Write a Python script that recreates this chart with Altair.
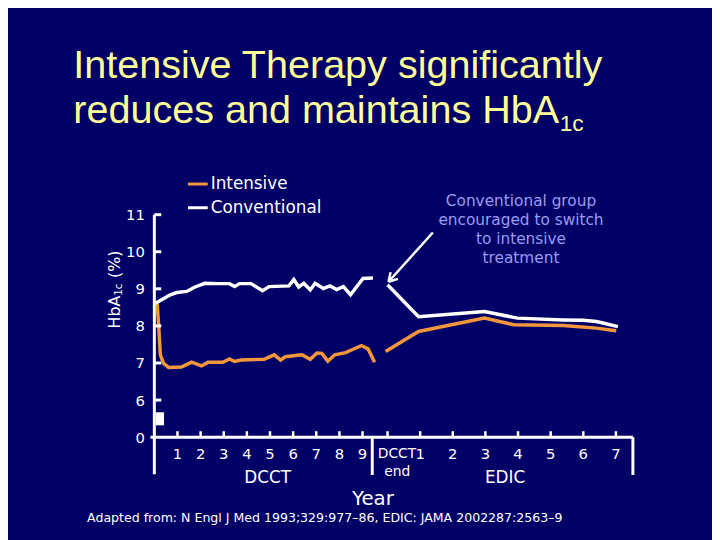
import altair as alt
import pandas as pd

BG = "#000066"
ORANGE = "#F5963C"
WHITE = "#FFFFFF"
YELLOW = "#FFFF99"
LAV = "#9C9CF0"
FONT = "DejaVu Sans"

# ---- data ----
# DCCT phase, x = years since start of DCCT
dcct_conv_year = [0.05, 0.69, 0.97, 1.40, 1.76, 2.18, 2.75, 3.25, 3.47, 3.68, 4.18, 4.68, 4.96,
                  5.82, 6.03, 6.24, 6.46, 6.74, 6.95, 7.31, 7.59, 7.88, 8.17, 8.48, 9.02, 9.45]
dcct_conv_hba1c = [8.61, 8.84, 8.90, 8.93, 9.05, 9.15, 9.14, 9.14, 9.06, 9.14, 9.14, 8.95, 9.06,
                   9.08, 9.25, 9.05, 9.15, 8.97, 9.15, 9.01, 9.08, 8.98, 9.06, 8.84, 9.28, 9.29]
dcct_int_year = [0.12, 0.19, 0.26, 0.40, 0.62, 1.17, 1.61, 2.04, 2.32, 2.96, 3.25, 3.47, 3.75,
                 4.75, 5.18, 5.46, 5.67, 6.17, 6.38, 6.74, 7.03, 7.24, 7.50, 7.80, 8.27, 8.59,
                 8.95, 9.24, 9.52]
dcct_int_hba1c = [8.61, 7.98, 7.22, 6.99, 6.88, 6.89, 7.02, 6.92, 7.02, 7.02, 7.11, 7.04, 7.08,
                  7.10, 7.22, 7.08, 7.17, 7.21, 7.22, 7.10, 7.27, 7.26, 7.05, 7.22, 7.28, 7.37,
                  7.47, 7.38, 7.02]
# EDIC phase, x = years since end of DCCT
edic_conv_year = [0.0, 0.95, 2.97, 3.98, 5.39, 6.0, 6.4, 6.6, 7.06]
edic_conv_hba1c = [9.11, 8.25, 8.39, 8.21, 8.16, 8.15, 8.12, 8.08, 7.98]
edic_int_year = [-0.06, 0.95, 2.97, 3.88, 5.39, 6.4, 7.01]
edic_int_hba1c = [7.31, 7.85, 8.21, 8.03, 8.01, 7.94, 7.87]

series = ["Intensive", "Conventional"]
dcct_ticks = [1, 2, 3, 4, 5, 6, 7, 8, 9]
edic_ticks = [0, 1, 2, 3, 4, 5, 6, 7]
edic_labels = ["", "1", "2", "3", "4", "5", "6", "7"]
y_ticks = [5, 6, 7, 8, 9, 10, 11]          # 5 is drawn as the broken-axis "0"
y_inner_ticks = [6, 7, 8, 9, 10, 11]

# arrow (EDIC scale): shaft + two head prongs
arrow_x = [1.39, 0.03, 0.03]
arrow_y = [10.52, 9.19, 9.19]
arrow_x2 = [0.03, 0.318, 0.094]
arrow_y2 = [9.19, 9.27, 9.45]

# ---- tables ----
dcct_df = pd.concat([
    pd.DataFrame({"year": dcct_int_year, "value": dcct_int_hba1c, "series": "Intensive"}),
    pd.DataFrame({"year": dcct_conv_year, "value": dcct_conv_hba1c, "series": "Conventional"}),
])
edic_df = pd.concat([
    pd.DataFrame({"year": edic_int_year, "value": edic_int_hba1c, "series": "Intensive"}),
    pd.DataFrame({"year": edic_conv_year, "value": edic_conv_hba1c, "series": "Conventional"}),
])
one = pd.DataFrame({"k": [0]})

# ---- scales / axes ----
yscale = alt.Scale(domain=[5, 11], nice=False, zero=False)
yaxis = alt.Axis(values=y_ticks, labelExpr="datum.value == 5 ? '0' : datum.label",
                 ticks=False, domain=False, grid=False, labelColor=WHITE, labelFontSize=15,
                 labelFont=FONT, labelPadding=10, title=None)
dscale = alt.Scale(domain=[0, 9.42], range=[0, 220.4], nice=False, zero=False)
escale = alt.Scale(domain=[-0.48, 7.52], range=[220, 484], nice=False, zero=False)
cscale = alt.Scale(domain=series, range=[ORANGE, WHITE])


def Y(f):
    return alt.Y(f, type="quantitative", scale=yscale, axis=yaxis)


def XD(f):
    return alt.X(f, type="quantitative", scale=dscale, axis=None)


def XE(f):
    return alt.X(f, type="quantitative", scale=escale, axis=None)


WL = dict(stroke=WHITE, strokeWidth=3)

# ---- DCCT group ----
dcct_lines = alt.Chart(dcct_df).mark_line(strokeWidth=3.5).encode(
    x=XD("year"), y=Y("value"),
    color=alt.Color("series:N", scale=cscale, legend=None), detail="series:N")

yline = alt.Chart(pd.DataFrame({"x": [0], "y": [4], "y2": [11]})).mark_rule(**WL).encode(
    x=XD("x"), y=Y("y"), y2="y2")
yt = alt.Chart(pd.DataFrame({"y": y_inner_ticks, "x": 0, "x2": 0.3})).mark_rule(**WL).encode(
    x=XD("x"), x2="x2", y=Y("y"))
brk = alt.Chart(pd.DataFrame({"x": [0.06], "x2": [0.42], "y": [5.32], "y2": [5.67]})).mark_rect(
    color=WHITE).encode(x=XD("x"), x2="x2", y=Y("y"), y2="y2")
xline_d = alt.Chart(pd.DataFrame({"x": [-0.17], "x2": [9.42], "y": [5]})).mark_rule(**WL).encode(
    x=XD("x"), x2="x2", y=Y("y"))
xt_d = alt.Chart(pd.DataFrame({"x": dcct_ticks, "y": 5, "y2": 5.16})).mark_rule(
    stroke=WHITE, strokeWidth=2.5).encode(x=XD("x"), y=Y("y"), y2="y2")
sep = alt.Chart(pd.DataFrame({"x": [9.42], "y": [3.98], "y2": [5]})).mark_rule(**WL).encode(
    x=XD("x"), y=Y("y"), y2="y2")
lab_d = alt.Chart(pd.DataFrame({"x": dcct_ticks, "y": 4.54,
                                "t": [str(v) for v in dcct_ticks]})).mark_text(
    color=WHITE, font=FONT, fontSize=15, baseline="middle").encode(
    x=XD("x"), y=Y("y"), text="t:N")
title_d = alt.Chart(pd.DataFrame({"x": [4.9], "y": [3.9], "t": ["DCCT"]})).mark_text(
    color=WHITE, font=FONT, fontSize=17, baseline="middle").encode(
    x=XD("x"), y=Y("y"), text="t:N")

dcct_group = alt.layer(dcct_lines, yline, yt, brk, xline_d, xt_d, sep, lab_d, title_d)

# ---- EDIC group ----
edic_lines = alt.Chart(edic_df).mark_line(strokeWidth=3.5).encode(
    x=XE("year"), y=Y("value"),
    color=alt.Color("series:N", scale=cscale, legend=None), detail="series:N")
xline_e = alt.Chart(pd.DataFrame({"x": [-0.48], "x2": [7.52], "y": [5]})).mark_rule(**WL).encode(
    x=XE("x"), x2="x2", y=Y("y"))
xt_e = alt.Chart(pd.DataFrame({"x": edic_ticks, "y": 5, "y2": 5.16})).mark_rule(
    stroke=WHITE, strokeWidth=2.5).encode(x=XE("x"), y=Y("y"), y2="y2")
rend = alt.Chart(pd.DataFrame({"x": [7.52], "y": [3.98], "y2": [5]})).mark_rule(**WL).encode(
    x=XE("x"), y=Y("y"), y2="y2")
lab_e = alt.Chart(pd.DataFrame({"x": edic_ticks, "y": 4.54, "t": edic_labels})).mark_text(
    color=WHITE, font=FONT, fontSize=15, baseline="middle").encode(
    x=XE("x"), y=Y("y"), text="t:N")
title_e = alt.Chart(pd.DataFrame({"x": [3.6], "y": [3.9], "t": ["EDIC"]})).mark_text(
    color=WHITE, font=FONT, fontSize=17, baseline="middle").encode(
    x=XE("x"), y=Y("y"), text="t:N")
dend = alt.Chart(pd.DataFrame({"x": [-0.3, -0.1], "y": [4.54, 4.07], "t": ["DCCT", "end"]})).mark_text(
    color=WHITE, font=FONT, fontSize=14, baseline="middle", align="left").encode(
    x=XE("x"), y=Y("y"), text="t:N")
arrow = alt.Chart(pd.DataFrame({"x": arrow_x, "y": arrow_y, "x2": arrow_x2, "y2": arrow_y2})).mark_rule(
    stroke=WHITE, strokeWidth=2.5).encode(x=XE("x"), x2="x2", y=Y("y"), y2="y2")
note = alt.Chart(pd.DataFrame({"x": [4.09], "y": [11.37],
                               "t": ["Conventional group\nencouraged to switch\nto intensive\ntreatment"]})).mark_text(
    color=LAV, font=FONT, fontSize=15.5, lineBreak="\n", lineHeight=19.3, baseline="middle").encode(
    x=XE("x"), y=Y("y"), text="t:N")

edic_group = alt.layer(edic_lines, xline_e, xt_e, rend, lab_e, title_e, dend, arrow, note)

# ---- free texts (title, legend, axis titles, source) ----
def txt(s, x, y, size, color=WHITE, font=FONT, align="left", angle=0, baseline="middle"):
    kw = dict(color=color, font=font, fontSize=size, align=align, baseline=baseline)
    if angle:
        kw["angle"] = angle
    return alt.Chart(one).mark_text(**kw).encode(
        x=alt.value(x), y=alt.value(y), text=alt.value(s))

TF = "Liberation Sans"
deco = [
    txt("Intensive Therapy significantly", -82, -138, 40, YELLOW, TF, baseline="alphabetic"),
    txt("reduces and maintains HbA", -82, -93, 40, YELLOW, TF, baseline="alphabetic"),
    txt("1c", 410, -85, 23, YELLOW, TF, baseline="alphabetic"),
    txt("Intensive", 57, -31, 17),
    txt("Conventional", 57, -7, 17),
    alt.Chart(one).mark_rule(stroke=ORANGE, strokeWidth=3).encode(
        x=alt.value(34), x2=alt.value(54), y=alt.value(-31)),
    alt.Chart(one).mark_rule(stroke=WHITE, strokeWidth=3).encode(
        x=alt.value(34), x2=alt.value(54), y=alt.value(-7)),
    txt("HbA", -40, 115, 16, angle=270),
    txt("1c", -36, 82, 10.5, angle=270),
    txt("(%)", -40, 64, 16, angle=270),
    txt("Year", 221, 288, 20, align="center"),
    txt("Adapted from: N Engl J Med 1993;329:977\u201386, EDIC: JAMA 2002287:2563\u20139",
        -68, 307, 12.7),
]

chart = alt.layer(dcct_group, edic_group, *deco).resolve_scale(x="independent").properties(
    width=484, height=225,
    autosize=alt.AutoSizeParams(type="none"),
    padding={"left": 148, "top": 206, "right": 80, "bottom": 101},
).configure(background=BG).configure_view(stroke=None)

chart.save("out.html", embed_options={"renderer": "svg", "actions": False})
